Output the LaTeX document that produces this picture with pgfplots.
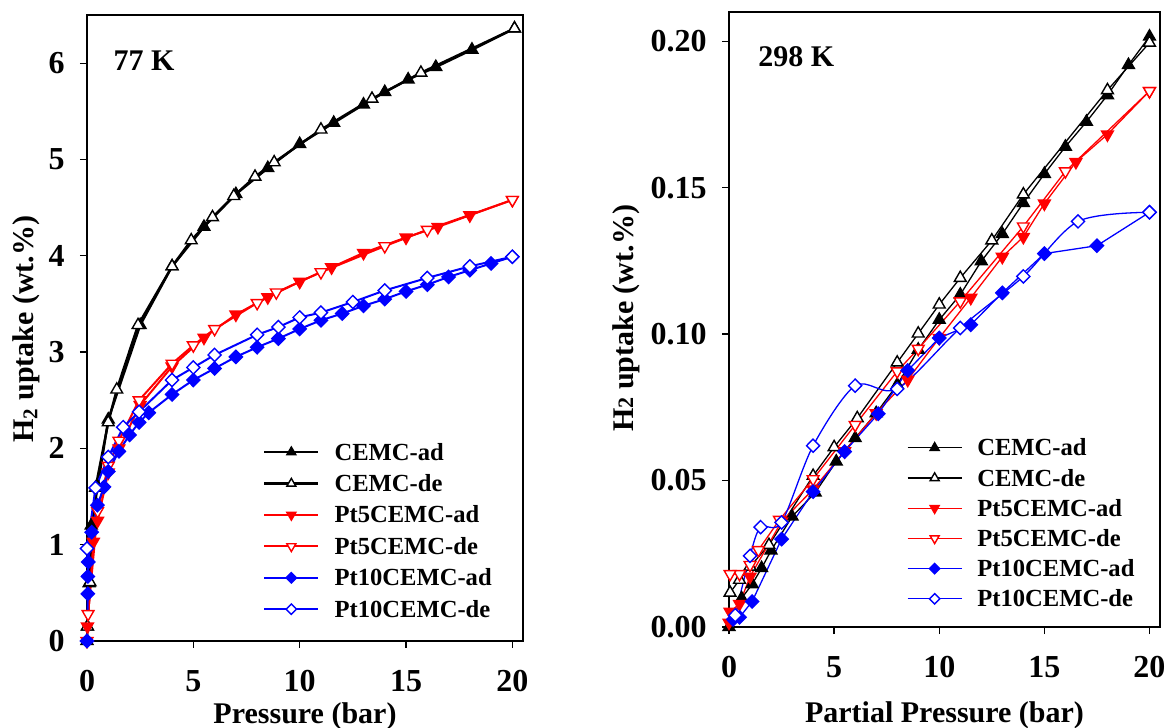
\documentclass[border=0pt]{standalone}
\usepackage{pgfplots}
\pgfplotsset{compat=1.18}
\usepackage{fontspec}
\setmainfont{Liberation Serif}

\pgfplotsset{
  base/.style={
    scale only axis, clip=false,
    xmin=0, xmax=20.5, ymin=0,
    xtick={0,5,10,15,20},
    tick align=outside, tick pos=left,
    major tick length=3.5bp,
    axis line style={line width=0.65bp},
    every tick/.style={black, line width=0.65bp},
    /pgf/number format/assume math mode=true,
    ticklabel style={font=\fontsize{16bp}{16bp}\selectfont\bfseries},
    xticklabel style={anchor=north, inner sep=0pt, yshift=-11bp},
    yticklabel style={anchor=east, inner sep=0pt, xshift=-7.5bp},
    label style={font=\fontsize{15bp}{15bp}\selectfont\bfseries},
    legend cell align=left,
    legend style={draw=none, fill=none, inner sep=0pt, outer sep=0pt,
      font=\fontsize{12.3bp}{12.3bp}\selectfont\bfseries,
      nodes={inner sep=0pt, text height=8.5bp, text depth=0.5bp},
      /tikz/every odd column/.append style={column sep=7.5bp}},
    legend image code/.code={\draw[mark repeat=2,mark phase=2,##1,mark size=2.6bp]
      plot coordinates {(0bp,0bp) (13.5bp,0bp) (27bp,0bp)};},
  },
  cad/.style={black, line width=#1, mark=triangle*, mark size=3.4bp,
    mark options={solid, fill=black, line width=0.7bp}},
  cde/.style={black, line width=#1, mark=triangle*, mark size=3.4bp,
    mark options={solid, fill=white, line width=0.7bp}},
  pfad/.style={red, line width=#1, mark=triangle*, mark size=3.4bp,
    mark options={solid, rotate=180, fill=red, line width=0.7bp}},
  pfde/.style={red, line width=#1, mark=triangle*, mark size=3.4bp,
    mark options={solid, rotate=180, fill=white, line width=0.7bp}},
  ptad/.style={blue, line width=#1, mark=diamond*, mark size=3.3bp,
    mark options={solid, xscale=1.33, fill=blue, line width=0.7bp}},
  ptde/.style={blue, line width=#1, mark=diamond*, mark size=3.3bp,
    mark options={solid, xscale=1.33, fill=white, line width=0.7bp}},
}

\begin{document}
\begin{tikzpicture}
\path[use as bounding box] (0,0) rectangle (584bp,364bp);

% 77 K
\begin{axis}[base,
  at={(43.5bp,43.5bp)}, anchor=south west,
  width=218bp, height=313bp,
  ymax=6.5, ytick={0,1,2,3,4,5,6},
  xlabel={Pressure (bar)},
  ylabel={H\textsubscript{2} uptake (wt.\%)},
  xlabel style={at={(rel axis cs:0.5,0)}, anchor=base, yshift=-41bp},
  ylabel style={at={(rel axis cs:0,0.498)}, anchor=base, yshift=27bp},
  legend style={at={(rel axis cs:0.404,0.316)}, anchor=north west,
    row sep=6.7bp},
]
\addplot[cad=1.2bp] coordinates {
(0,0) (0.02,0.15) (0.1,0.6) (0.2,1.2) (0.5,1.6) (1.0,2.3) (2.5,3.28) (4.0,3.89)
(5.5,4.30) (7.0,4.64) (8.5,4.91) (10.0,5.16) (11.6,5.38) (13.0,5.57) (14.0,5.70)
(15.1,5.83) (16.4,5.96) (18.1,6.14) (20.1,6.36)};
\addlegendentry{CEMC-ad}
\addplot[cde=1.2bp] coordinates {
(20.1,6.36) (15.7,5.90) (13.4,5.63) (11.0,5.31) (8.8,4.97) (7.9,4.82) (6.9,4.62)
(5.9,4.40) (4.9,4.16) (4.0,3.89) (2.4,3.28) (1.4,2.61) (1.0,2.27) (0.4,1.59)
(0.14,0.61) (0.02,0.15)};
\addlegendentry{CEMC-de}
\addplot[pfad=1bp] coordinates {
(0,0) (0.02,0.15) (0.3,1.03) (0.5,1.25) (1.0,1.75) (1.5,2.0) (2.5,2.45) (4.0,2.85)
(5.5,3.15) (7.0,3.39) (8.5,3.57) (10.0,3.73) (11.5,3.88) (13.0,4.03) (15.0,4.19)
(16.5,4.30) (18.0,4.42) (20.0,4.58)};
\addlegendentry{Pt5CEMC-ad}
\addplot[pfde=1bp] coordinates {
(20.0,4.58) (16.0,4.27) (14.0,4.10) (11.0,3.83) (8.9,3.62) (8.0,3.51) (6.0,3.24)
(5.0,3.07) (4.0,2.88) (2.45,2.50) (1.5,2.08) (1.0,1.82) (0.5,1.35) (0.05,0.28)};
\addlegendentry{Pt5CEMC-de}
\addplot[ptad=1bp] coordinates {
(0,0) (0.04,0.49) (0.04,0.67) (0.06,0.82) (0.22,1.13) (0.49,1.41) (0.8,1.60)
(1.0,1.76) (1.5,1.97) (2.0,2.14) (2.45,2.27) (2.9,2.37) (4.0,2.56) (5.0,2.71)
(6.0,2.83) (7.0,2.95) (8.0,3.05) (9.0,3.14) (10.0,3.24) (11.0,3.33) (12.0,3.40)
(13.0,3.48) (14.0,3.55) (15.0,3.63) (16.0,3.70) (17.0,3.78) (18.0,3.85)
(19.0,3.92) (20.0,3.99)};
\addlegendentry{Pt10CEMC-ad}
\addplot[ptde=1bp] coordinates {
(20.0,3.99) (18.0,3.89) (16.0,3.77) (14.0,3.64) (12.5,3.52) (11.0,3.41)
(10.0,3.36) (9.0,3.26) (8.0,3.18) (6.0,2.97) (5.0,2.84) (4.0,2.71) (2.45,2.38)
(1.7,2.22) (1.0,1.91) (0.4,1.59) (0.0,0.96)};
\addlegendentry{Pt10CEMC-de}
\node[anchor=base west, inner sep=0pt, font=\fontsize{15bp}{15bp}\selectfont\bfseries]
  at (rel axis cs:0.06,0.912) {77 K};
\end{axis}

% 298 K
\begin{axis}[base,
  at={(364.5bp,50.5bp)}, anchor=south west,
  width=215.5bp, height=307.5bp,
  ymax=0.21, ytick={0,0.05,0.10,0.15,0.20},
  yticklabel style={/pgf/number format/fixed, /pgf/number format/fixed zerofill,
    /pgf/number format/precision=2},
  xlabel={Partial Pressure (bar)},
  ylabel={H{\fontsize{11bp}{11bp}\selectfont 2} uptake (wt.\%)},
  xlabel style={at={(rel axis cs:0.5,0)}, anchor=base, yshift=-47.5bp},
  ylabel style={at={(rel axis cs:0,0.502)}, anchor=base, yshift=48bp},
  legend style={at={(rel axis cs:0.413,0.306)}, anchor=north west,
    row sep=6.1bp},
]
\addplot[cad=0.65bp] coordinates {
(0,0) (0.6,0.0098) (1.1,0.0146) (1.55,0.0201) (2.0,0.0261) (3.0,0.0377)
(4.1,0.0459) (5.1,0.0565) (6.0,0.0645) (7.0,0.073) (8.0,0.0827) (9.0,0.0947)
(10.0,0.1049) (11.0,0.1135) (12.0,0.1249) (13.0,0.1342) (14.0,0.1448)
(15.0,0.1547) (16.0,0.1640) (17.0,0.1725) (18.0,0.1816) (19.0,0.1919)
(20.0,0.2016)};
\addlegendentry{CEMC-ad}
\addplot[cde=0.65bp] coordinates {
(20.0,0.1995) (18.0,0.1833) (14.0,0.1477) (12.5,0.1320) (11.0,0.1192)
(10.0,0.1101) (9.0,0.1002) (8.0,0.0903) (6.1,0.0713) (5.0,0.0614) (4.0,0.0516)
(1.9,0.0280) (1.0,0.0206) (0.5,0.0161) (0.05,0.0117)};
\addlegendentry{CEMC-de}
\addplot[pfad=0.65bp] coordinates {
(0,0.0015) (0.05,0.0052) (0.5,0.0079) (1.0,0.0172) (2.5,0.036) (4.0,0.047)
(5.5,0.060) (7.0,0.073) (8.5,0.0844) (10.0,0.0987) (11.5,0.1124) (13.0,0.1264)
(14.0,0.1332) (15.0,0.1446) (16.5,0.1588) (18.0,0.1682) (20.0,0.1830)};
\addlegendentry{Pt5CEMC-ad}
\addplot[pfde=0.65bp] coordinates {
(20.0,0.1830) (16.0,0.1556) (14.0,0.1368) (11.0,0.1112) (9.0,0.0950)
(8.0,0.0873) (6.0,0.069) (4.0,0.0505) (2.4,0.0366) (1.4,0.0263) (1.0,0.0212)
(0.5,0.0181) (0.05,0.0181)};
\addlegendentry{Pt5CEMC-de}
\addplot[ptad=0.65bp] coordinates {
(0.2,0.0026) (0.5,0.0033) (1.1,0.0087) (2.5,0.0300) (4.0,0.0462) (5.5,0.0599)
(7.1,0.0728) (8.5,0.0876) (10.0,0.0987) (11.5,0.1032) (13.0,0.1141)
(15.0,0.1275) (17.5,0.1302) (20.0,0.1416)};
\addlegendentry{Pt10CEMC-ad}
\addplot[ptde=0.65bp, smooth, tension=0.5] coordinates {
(20.0,0.1416) (16.6,0.1385) (14.0,0.1197) (11.0,0.1021) (8.0,0.0813)
(6.0,0.0824) (4.0,0.0619) (2.5,0.0357) (1.5,0.0341) (1.0,0.0243) (0.3,0.004)};
\addlegendentry{Pt10CEMC-de}
\node[anchor=base west, inner sep=0pt, font=\fontsize{15bp}{15bp}\selectfont\bfseries]
  at (rel axis cs:0.067,0.911) {298 K};
\end{axis}
\end{tikzpicture}
\end{document}
